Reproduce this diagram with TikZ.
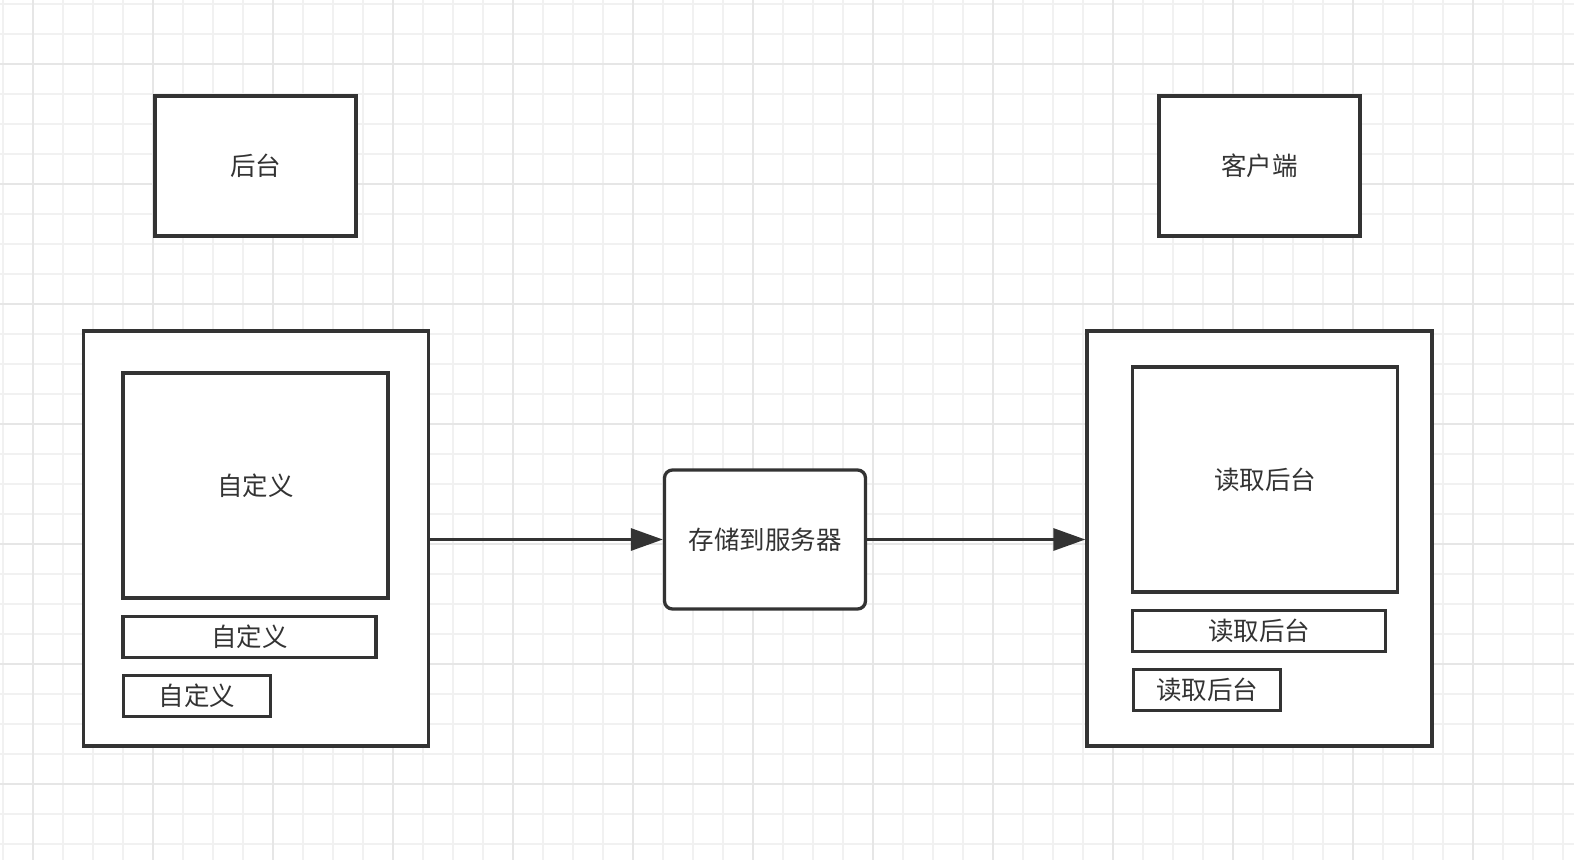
\documentclass[tikz,border=0pt]{standalone}
\usepackage{fontspec}
\setmainfont{Noto Sans CJK SC}
\usetikzlibrary{arrows.meta}
\definecolor{ink}{HTML}{333333}
\definecolor{gminor}{HTML}{F1F1F1}
\definecolor{gmajor}{HTML}{E6E6E6}
\tikzset{
  boxline/.style={draw=ink, line width=3.3pt, fill=white, text=ink, inner sep=0pt,
    font=\fontsize{25.5}{30}\selectfont},
  roundbox/.style={boxline, rounded corners=8pt},
  conn/.style={draw=ink, line width=3pt, -{Triangle[length=32pt,width=22pt]}},
  minorline/.style={draw=gminor, line width=1.5pt},
  majorline/.style={draw=gmajor, line width=2pt},
}
\begin{document}
\begin{tikzpicture}[x=1pt,y=-1pt]
\useasboundingbox (0,0) rectangle (1574,860);
\fill[white] (0,0) rectangle (1574,860);
% grid
\foreach \i in {0,...,52} { \draw[minorline] ({3+30*\i},0) -- ({3+30*\i},860); }
\foreach \i in {0,...,28} { \draw[minorline] (0,{4+30*\i}) -- (1574,{4+30*\i}); }
\foreach \i in {0,...,12} { \draw[majorline] ({33+120*\i},0) -- ({33+120*\i},860); }
\foreach \i in {0,...,6} { \draw[majorline] (0,{64+120*\i}) -- (1574,{64+120*\i}); }

% top labels
\node[boxline, minimum width=201pt, minimum height=140pt] (ht) at (255.5,166) {后台};
\node[boxline, minimum width=201pt, minimum height=140pt] (kh) at (1259.5,166) {客户端};

% left panel
\node[boxline, minimum width=345pt, minimum height=415pt] (lp) at (256,538.5) {};
\node[boxline, minimum width=265pt, minimum height=225pt] (lbig) at (255.5,485.5) {自定义};
\node[boxline, minimum width=253pt, minimum height=41pt] (lbar1) at (249.5,637) {自定义};
\node[boxline, minimum width=147pt, minimum height=41pt] (lbar2) at (197,696) {自定义};

% center
\node[roundbox, minimum width=201pt, minimum height=139pt] (srv) at (765,539.5) {存储到服务器};

% right panel
\node[boxline, minimum width=345pt, minimum height=415pt] (rp) at (1259.5,538.5) {};
\node[boxline, minimum width=265pt, minimum height=225pt] (rbig) at (1265,479.5) {读取后台};
\node[boxline, minimum width=253pt, minimum height=41pt] (rbar1) at (1259,631) {读取后台};
\node[boxline, minimum width=147pt, minimum height=41pt] (rbar2) at (1207,690) {读取后台};

% connectors
\draw[conn] (lp.east |- srv.west) -- (srv.west);
\draw[conn] (srv.east) -- (rp.west |- srv.east);
\end{tikzpicture}
\end{document}
